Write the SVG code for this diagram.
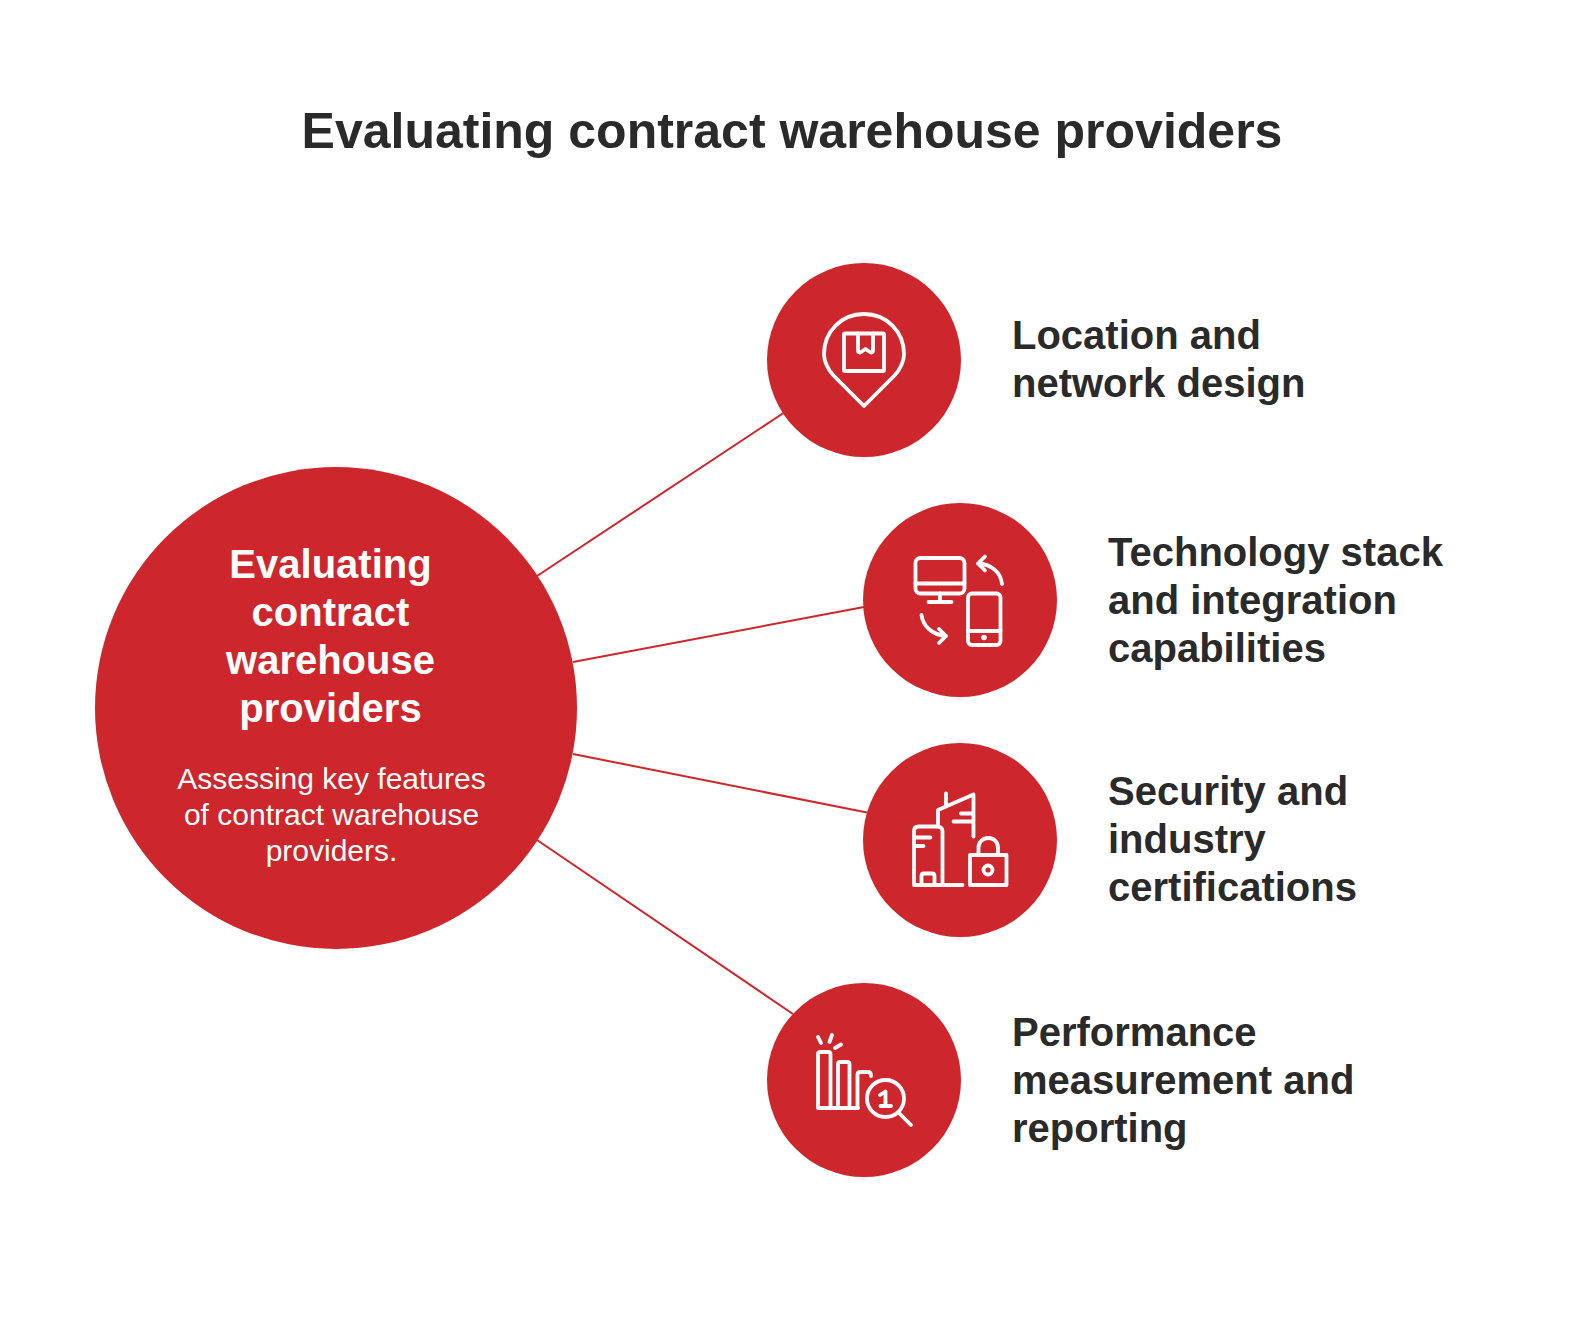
<svg xmlns="http://www.w3.org/2000/svg" width="1584" height="1320" viewBox="0 0 1584 1320">
<style>
text{font-family:"Liberation Sans",Arial,sans-serif}
.title{font-size:50px;font-weight:700;fill:#2a2a2a;text-anchor:middle}
.lab{font-size:40px;font-weight:700;fill:#2a2a2a}
.h{font-size:40px;font-weight:700;fill:#fff;text-anchor:middle}
.s{font-size:30px;fill:#fff;text-anchor:middle}
.c{fill:#cd262c}
.i{fill:none;stroke:#fff;stroke-width:3.8;stroke-linecap:round;stroke-linejoin:round}
.l{stroke:#cd262c;stroke-width:2;fill:none}
</style>
<rect width="1584" height="1320" fill="#fff"/>
<text class="title" x="792" y="148">Evaluating contract warehouse providers</text>
<g id="connectors">
<line class="l" x1="537" y1="576" x2="785" y2="412"/>
<line class="l" x1="573" y1="662" x2="864" y2="607"/>
<line class="l" x1="573" y1="754" x2="867" y2="812.500"/>
<line class="l" x1="537" y1="840" x2="793" y2="1014"/>
</g>
<g id="center">
<circle class="c" cx="336" cy="708" r="241"/>
<text class="h" x="330.500" y="577.500">Evaluating</text>
<text class="h" x="330.500" y="625.500">contract</text>
<text class="h" x="330.500" y="673.500">warehouse</text>
<text class="h" x="330.500" y="721.500">providers</text>
<text class="s" x="331.500" y="789">Assessing key features</text>
<text class="s" x="331.500" y="825">of contract warehouse</text>
<text class="s" x="331.500" y="861">providers.</text>
</g>
<g id="node-location">
<circle class="c" cx="864" cy="360" r="97"/>
<path class="i" d="M864 406L834 376C827 369 824 360 824 354C824 331.500 841.500 314 864 314C886.500 314 904 331.500 904 354C904 360 901 369 894 376Z"/>
<rect class="i" x="844" y="333.500" width="40" height="37.500" rx="1"/>
<path class="i" d="M858 333.500V350.500C858 352.500 859.500 353 861 352L865.500 349L870 352C871.500 353 873 352.500 873 350.500V333.500"/>
<text class="lab" x="1012" y="349">Location and</text>
<text class="lab" x="1012" y="397">network design</text>
</g>
<g id="node-technology">
<circle class="c" cx="960" cy="600" r="97"/>
<rect class="i" x="915.500" y="558" width="49" height="35.500" rx="5"/>
<path class="i" d="M915.500 583.500H964.500M940 593.500V602M928.500 602H951.500"/>
<rect class="i" x="968" y="593.500" width="32.500" height="51.500" rx="4"/>
<path class="i" d="M968 631H1000.500"/>
<circle cx="984" cy="637.500" r="2.800" fill="#fff"/>
<path class="i" d="M1002 584C1001 573 992 564 978 563.500M985 556.500L978 563.500L985 570.500"/>
<path class="i" d="M921.500 615C923 626 932 635 946 636M939 629L946 636L939 643"/>
<text class="lab" x="1108" y="565.500">Technology stack</text>
<text class="lab" x="1108" y="613.500">and integration</text>
<text class="lab" x="1108" y="661.500">capabilities</text>
</g>
<g id="node-security">
<circle class="c" cx="960" cy="840" r="97"/>
<path class="i" d="M962.500 885H914V831C914 828 916 826.500 919 826.500H937C940 826.500 942.500 828 942.500 831V885"/>
<path class="i" d="M921.500 885V876C921.500 874.500 922.500 873.500 924 873.500H932C933.500 873.500 934.500 874.500 934.500 876V885"/>
<path class="i" d="M915 837.500H930.500M915 846H923.500"/>
<path class="i" d="M938 825.500V810L973.500 794.500V836.500M946 793.500V805M961 813.500H973.500M953.500 821.500H973.500"/>
<rect class="i" x="970" y="855" width="36.500" height="30"/>
<path class="i" d="M978.500 855V847.500C978.500 842 983 838 988.500 838C993.500 838 998 842 998 847.500V855"/>
<circle class="i" cx="988" cy="870" r="4.500"/>
<text class="lab" x="1108" y="805">Security and</text>
<text class="lab" x="1108" y="853">industry</text>
<text class="lab" x="1108" y="901">certifications</text>
</g>
<g id="node-performance">
<circle class="c" cx="864" cy="1080" r="97"/>
<path class="i" d="M858 1108H818V1054C818 1052.500 819 1052 820.500 1052H828C829.500 1052 830.500 1052.500 830.500 1054V1108"/>
<path class="i" d="M838 1108V1064C838 1062.500 839 1062 840.500 1062H847C848.500 1062 849.500 1062.500 849.500 1064V1108"/>
<path class="i" d="M857.500 1108V1074.500C857.500 1072.500 859 1072 861 1072H868C870 1072 871 1073 871 1076"/>
<path class="i" d="M818 1037L821 1043M832 1035L829.500 1042M841 1044.500L835 1048"/>
<circle class="i" cx="885.500" cy="1098.500" r="18.500"/>
<path class="i" d="M899 1113L911 1125M880 1095L885.500 1091.500V1106M880.500 1106H891"/>
<text class="lab" x="1012" y="1045.500">Performance</text>
<text class="lab" x="1012" y="1093.500">measurement and</text>
<text class="lab" x="1012" y="1141.500">reporting</text>
</g>
</svg>
